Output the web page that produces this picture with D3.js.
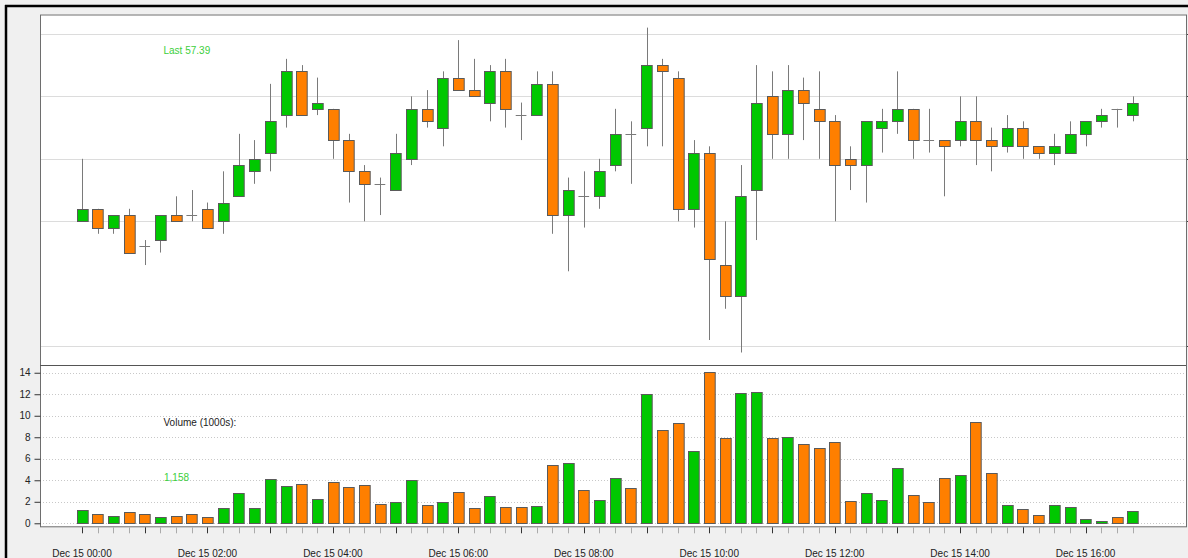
<!DOCTYPE html>
<html lang="en">
<head>
  <meta charset="UTF-8">
  <title>Dec 15 candles</title>
  <script src="https://d3js.org/d3.v7.min.js"></script>
  <style>
    body { margin: 0; background: #f0f0f0; }
    svg { display: block; }
    text { font-family: "Liberation Sans", Arial, sans-serif; font-size: 10px; }
  </style>
</head>
<body>
  <svg width="1188" height="558"></svg>

  <script>
    const width = 1188, height = 558;

    // 15 minute bars, Dec 15 00:00 -> 16:45
    const opens  = [55.5,55.7,55.4,55.6,55.1,55.2,55.6,55.6,55.7,55.5,55.9,56.3,56.6,57.2,57.9,57.3,57.3,56.8,56.3,56.1,
                    56.0,56.5,57.3,57.0,57.8,57.6,57.4,57.9,57.2,57.2,57.7,55.6,55.9,55.9,56.4,56.9,57.0,58.0,57.8,55.7,
                    56.6,54.8,54.3,56.0,57.5,56.9,57.6,57.3,57.1,56.5,56.4,57.0,57.1,57.3,56.8,56.8,56.8,57.1,56.8,56.7,
                    57.0,56.7,56.6,56.6,56.9,57.1,57.3,57.2];
    const highs  = [56.5,55.7,55.6,55.7,55.2,55.6,55.9,56.0,55.8,56.3,56.9,56.8,57.7,58.1,58.0,57.8,57.3,56.9,56.4,56.2,
                    56.9,57.5,57.6,57.9,58.4,58.1,58.0,58.1,57.4,57.9,57.9,56.2,56.3,56.5,57.3,57.1,58.6,58.1,57.9,56.8,
                    56.7,55.5,56.4,58.0,57.9,58.0,57.8,57.9,57.2,56.7,57.1,57.3,57.9,57.3,57.3,56.8,57.5,57.5,57.0,57.2,
                    57.1,56.7,56.9,57.1,57.1,57.3,57.3,57.5];
    const lows   = [55.5,55.3,55.3,55.0,54.8,55.0,55.5,55.5,55.4,55.3,55.9,56.1,56.3,57.0,57.2,57.2,56.5,55.8,55.5,55.6,
                    56.0,56.4,57.0,56.7,57.6,57.5,57.1,57.0,56.8,57.2,55.3,54.7,55.4,55.7,56.3,56.1,56.7,56.7,55.5,55.4,
                    53.6,54.1,53.4,55.2,56.5,56.5,56.8,56.5,55.5,56.0,55.8,56.6,56.9,56.5,56.6,55.9,56.7,56.4,56.3,56.6,
                    56.5,56.5,56.4,56.6,56.7,57.0,57.0,57.1];
    const closes = [55.7,55.4,55.6,55.0,55.1,55.6,55.5,55.6,55.4,55.8,56.4,56.5,57.1,57.9,57.2,57.4,56.8,56.3,56.1,56.1,
                    56.6,57.3,57.1,57.8,57.6,57.5,57.9,57.3,57.2,57.7,55.6,56.0,55.9,56.3,56.9,56.9,58.0,57.9,55.7,56.6,
                    54.9,54.3,55.9,57.4,56.9,57.6,57.4,57.1,56.4,56.4,57.1,57.1,57.3,56.8,56.8,56.7,57.1,56.8,56.7,57.0,
                    56.7,56.6,56.7,56.9,57.1,57.2,57.3,57.39];
    // volume in thousands
    const volumes = [1.24,0.86,0.68,1.02,0.86,0.56,0.71,0.84,0.59,1.45,2.79,1.45,4.09,3.47,3.65,2.3,3.8,3.4,3.6,1.8,
                     2.0,4.0,1.7,2.0,2.9,1.4,2.5,1.5,1.5,1.6,5.4,5.6,3.1,2.2,4.2,3.3,12.0,8.7,9.3,6.7,
                     14.1,7.9,12.1,12.2,7.9,8.0,7.4,7.0,7.6,2.1,2.8,2.2,5.1,2.6,2.0,4.2,4.5,9.4,4.7,1.74,
                     1.37,0.79,1.74,1.47,0.44,0.22,0.62,1.158];

    const priceGrid = [53.5, 55.5, 56.5, 57.5, 58.5];
    const volumeTicks = [0, 2, 4, 6, 8, 10, 12, 14];
    const lastLabel = "Last 57.39";
    const volumeLabel = "Volume (1000s):";
    const lastVolumeLabel = "1,158";

    const t0 = new Date(2023, 11, 15, 0, 0);
    const times = d3.timeMinute.every(15).range(t0, d3.timeMinute.offset(t0, 15 * opens.length));
    const bars = times.map((t, i) => ({ t, o: opens[i], h: highs[i], l: lows[i], c: closes[i], v: volumes[i] }));

    const GREEN = "#00c800", ORANGE = "#ff7f00";
    const plot = { left: 40, right: 1186, top: 14.5, split: 365, bottom: 526.3 };

    // time scale: 15 minutes = 15.68px, first bar at x=82
    const x = d3.scaleTime()
      .domain([d3.timeSecond.offset(t0, -2411), d3.timeSecond.offset(t0, 63365)])
      .range([plot.left, plot.right]);
    const y = d3.scaleLinear().domain([53.2, 58.81]).range([plot.split, plot.top]);
    const yv = d3.scaleLinear().domain([-0.28, 14.72]).range([plot.bottom, plot.split]);
    const bw = 10.7;

    const svg = d3.select("svg");

    // outer frame
    svg.append("rect").attr("width", width).attr("height", height).attr("fill", "#f0f0f0");
    svg.append("line").attr("x1", 5).attr("x2", width).attr("y1", 6).attr("y2", 6)
      .attr("stroke", "#000").attr("stroke-width", 2.5);
    svg.append("line").attr("x1", 6).attr("x2", 6).attr("y1", 5).attr("y2", height)
      .attr("stroke", "#000").attr("stroke-width", 2.5);

    svg.append("rect")
      .attr("x", plot.left).attr("y", plot.top)
      .attr("width", plot.right - plot.left).attr("height", plot.bottom - plot.top)
      .attr("fill", "#fff");

    // price gridlines
    svg.append("g").selectAll("line").data(priceGrid).join("line")
      .attr("x1", plot.left).attr("x2", plot.right)
      .attr("y1", d => Math.round(y(d)) + 0.5).attr("y2", d => Math.round(y(d)) + 0.5)
      .attr("stroke", "#dcdcdc");
    svg.append("g").selectAll("line").data(priceGrid).join("line")
      .attr("x1", plot.right).attr("x2", plot.right + 5)
      .attr("y1", d => Math.round(y(d)) + 0.5).attr("y2", d => Math.round(y(d)) + 0.5)
      .attr("stroke", "#444");

    // volume gridlines (dotted)
    svg.append("g").selectAll("line").data(volumeTicks).join("line")
      .attr("x1", plot.left).attr("x2", plot.right)
      .attr("y1", d => Math.round(yv(d)) + 0.5).attr("y2", d => Math.round(yv(d)) + 0.5)
      .attr("stroke", "#c8c8c8").attr("stroke-dasharray", "1,2");

    // wicks
    svg.append("g").selectAll("line").data(bars).join("line")
      .attr("x1", d => Math.round(x(d.t)) + 0.5).attr("x2", d => Math.round(x(d.t)) + 0.5)
      .attr("y1", d => y(d.h)).attr("y2", d => y(d.l))
      .attr("stroke", "#7a7a7a");

    // bodies
    svg.append("g").selectAll("rect").data(bars.filter(d => d.o !== d.c)).join("rect")
      .attr("x", d => Math.round(x(d.t) - bw / 2) + 0.5)
      .attr("y", d => Math.round(y(Math.max(d.o, d.c))) + 0.5)
      .attr("width", bw)
      .attr("height", d => Math.max(1, Math.round(y(Math.min(d.o, d.c))) - Math.round(y(Math.max(d.o, d.c)))))
      .attr("fill", d => d.c > d.o ? GREEN : ORANGE)
      .attr("stroke", "#5a5a5a");

    // doji
    svg.append("g").selectAll("line").data(bars.filter(d => d.o === d.c)).join("line")
      .attr("x1", d => x(d.t) - bw / 2).attr("x2", d => x(d.t) + bw / 2)
      .attr("y1", d => Math.round(y(d.c)) + 0.5).attr("y2", d => Math.round(y(d.c)) + 0.5)
      .attr("stroke", "#7a7a7a");

    // volume bars
    svg.append("g").selectAll("rect").data(bars).join("rect")
      .attr("x", d => Math.round(x(d.t) - bw / 2) + 0.5)
      .attr("y", d => Math.round(yv(d.v)) + 0.5)
      .attr("width", bw)
      .attr("height", d => Math.round(yv(0)) - Math.round(yv(d.v)))
      .attr("fill", d => d.c > d.o ? GREEN : ORANGE)
      .attr("stroke", "#5a5a5a");

    // panel borders
    svg.append("rect")
      .attr("x", plot.left + 0.5).attr("y", plot.top + 0.5)
      .attr("width", plot.right - plot.left).attr("height", plot.bottom - plot.top)
      .attr("fill", "none").attr("stroke", "#6e6e6e");
    svg.append("line")
      .attr("x1", plot.left).attr("x2", plot.right)
      .attr("y1", plot.split + 0.5).attr("y2", plot.split + 0.5)
      .attr("stroke", "#555");

    // volume axis
    const yAxis = svg.append("g")
      .attr("transform", `translate(${plot.left + 0.5},0)`)
      .call(d3.axisLeft(yv).tickValues(volumeTicks).tickSize(6).tickPadding(4));
    yAxis.select(".domain").remove();
    yAxis.selectAll("line").attr("stroke", "#333");
    yAxis.selectAll("text").attr("fill", "#222").style("font-size", "10px")
      .style("font-family", "'Liberation Sans', Arial, sans-serif");

    // time ticks, darker on the hour
    svg.append("g").selectAll("line").data(times).join("line")
      .attr("x1", d => Math.round(x(d)) + 0.5).attr("x2", d => Math.round(x(d)) + 0.5)
      .attr("y1", plot.bottom + 1).attr("y2", plot.bottom + 7)
      .attr("stroke", d => d.getMinutes() === 0 ? "#333" : "#aaa");

    const fmt = d3.timeFormat("%b %d %H:%M");
    svg.append("g").selectAll("text")
      .data(times.filter(d => d.getMinutes() === 0 && d.getHours() % 2 === 0))
      .join("text")
      .attr("x", d => x(d)).attr("y", 557)
      .attr("text-anchor", "middle").attr("fill", "#222")
      .text(d => fmt(d));

    // annotations
    svg.append("text").attr("x", 163.5).attr("y", 54.3).attr("fill", "#3ccf3c").text(lastLabel);
    svg.append("text").attr("x", 163.5).attr("y", 426).attr("fill", "#222").text(volumeLabel);
    svg.append("text").attr("x", 164).attr("y", 480.5).attr("fill", "#3ccf3c").text(lastVolumeLabel);
  </script>
</body>
</html>
